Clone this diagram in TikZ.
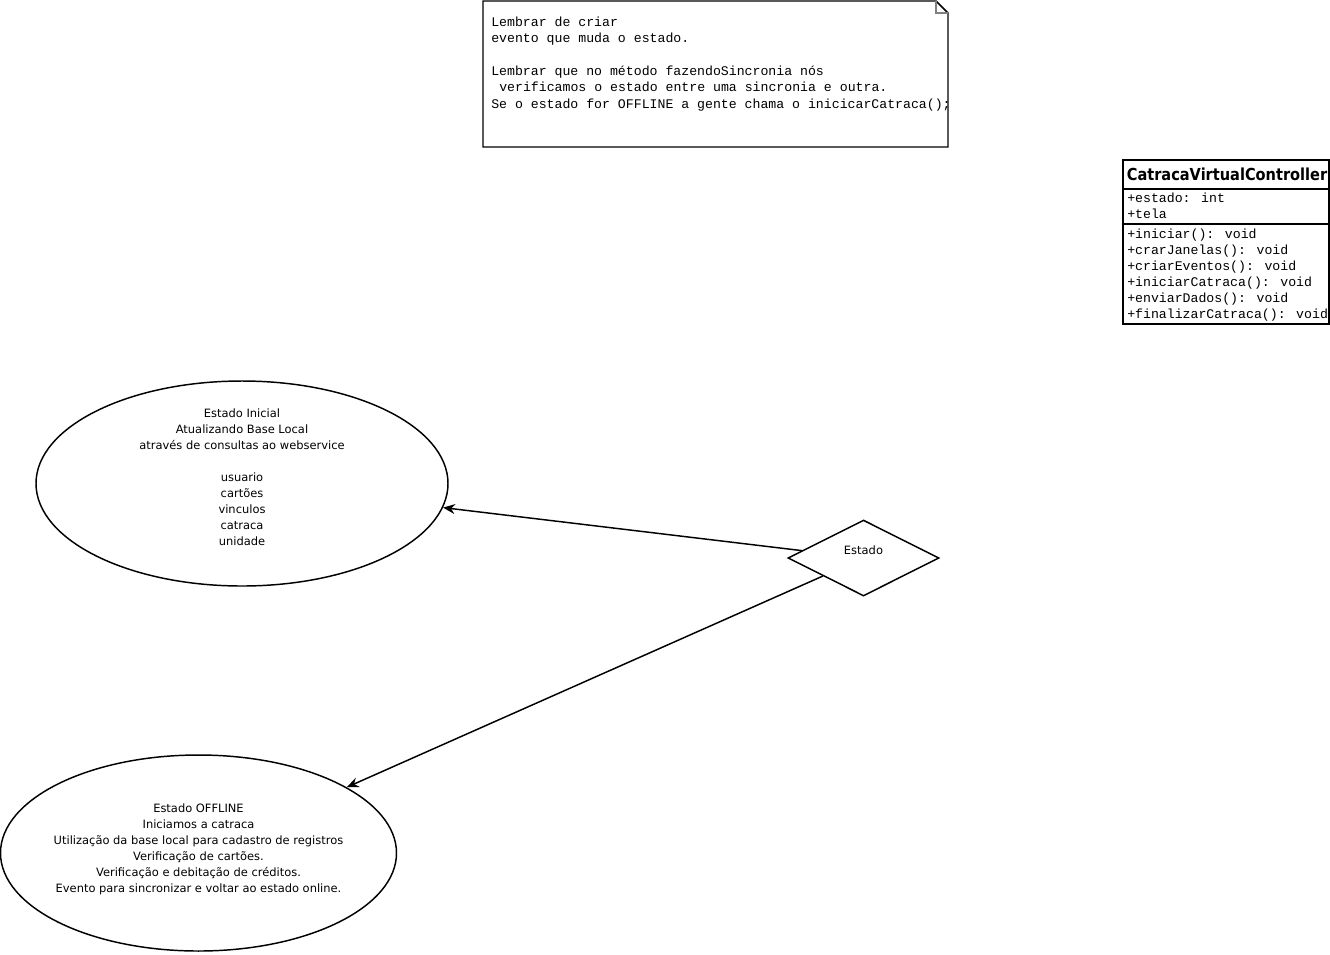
\documentclass[tikz,border=0pt]{standalone}
\usepackage{fontspec}
\usetikzlibrary{shapes.geometric,arrows.meta}
\newfontfamily\monof{Liberation Mono}
\newfontfamily\sansf{DejaVu Sans}
\newfontfamily\titlef[FakeStretch=0.88]{DejaVu Sans}
\begin{document}
\begin{tikzpicture}[x=0.75pt,y=-0.75pt,
  shapeline/.style={draw=black, line width=1.1pt},
  arr/.style={draw=black, line width=1.1pt, -{Stealth[length=9pt,width=7.5pt,inset=3pt]}},
  monotext/.style={font=\monof\fontsize{9.9pt}{12pt}\selectfont, inner sep=0pt, anchor=base west},
  sanstext/.style={font=\sansf\fontsize{8.6pt}{12pt}\selectfont, inner sep=0pt, anchor=base},
  titletext/.style={font=\titlef\bfseries\fontsize{12.4pt}{14pt}\selectfont, inner sep=0pt, anchor=base},
  emptybox/.style={inner sep=0pt, outer sep=0pt, anchor=north west}
]
\useasboundingbox (0,0) rectangle (1330,954);
\fill[white] (0,0) rectangle (1330,954);

% ---- note ----
\node[emptybox, minimum width=348.75pt, minimum height=109.5pt] (note) at (483,1) {};
\draw[shapeline, line join=miter] (note.north west) -- ([xshift=-9pt]note.north east)
  -- ([yshift=-9pt]note.north east) -- (note.south east) -- (note.south west) -- cycle;
\draw[gray, line width=0.8pt] ([xshift=-9pt]note.north east) -- ([xshift=-9pt,yshift=-9pt]note.north east)
  -- ([yshift=-9pt]note.north east);
\foreach \y/\t [count=\i] in {26.5/{Lembrar de criar}, 42.8/{evento que muda o estado.},
   75.4/{Lembrar que no método fazendoSincronia nós},
   108/{Se o estado for OFFLINE a gente chama o inicicarCatraca();}}
  \node[monotext] (nl\i) at (491,\y) {\t};
\node[monotext] (nl5) at (499,91.7) {verificamos o estado entre uma sincronia e outra.};

% ---- class ----
\node[emptybox, shapeline, minimum width=154.5pt, minimum height=123pt] (cls) at (1123,160) {};
\draw[shapeline] ([yshift=-21.75pt]cls.north west) -- ([yshift=-21.75pt]cls.north east);
\draw[shapeline] ([yshift=-48pt]cls.north west) -- ([yshift=-48pt]cls.north east);
\node[titletext] (clsname) at (1227,180.5) {CatracaVirtualController};
\foreach \y/\t [count=\i] in {202/{+estado: int}, 218/{+tela},
   238/{+iniciar(): void}, 254/{+crarJanelas(): void}, 270/{+criarEventos(): void},
   286/{+iniciarCatraca(): void}, 302/{+enviarDados(): void}, 318/{+finalizarCatraca(): void}}
  \node[monotext] (cl\i) at (1127,\y) {\t};

% ---- states ----
\node[ellipse, shapeline, inner sep=0pt, minimum width=309pt, minimum height=153.75pt] (e1) at (242,483.5) {};
\foreach \y/\t [count=\i] in {417/{Estado Inicial}, 433/{Atualizando Base Local},
   449/{através de consultas ao webservice}, 481/{usuario}, 497/{cartões},
   513/{vinculos}, 529/{catraca}, 545/{unidade}}
  \node[sanstext] (ea\i) at (242,\y) {\t};

\node[ellipse, shapeline, inner sep=0pt, minimum width=297pt, minimum height=147pt] (e2) at (198.5,853) {};
\foreach \y/\t [count=\i] in {812/{Estado OFFLINE}, 828/{Iniciamos a catraca},
   844/{Utilização da base local para cadastro de registros}, 860/{Verificação de cartões.},
   876/{Verificação e debitação de créditos.}, 892/{Evento para sincronizar e voltar ao estado online.}}
  \node[sanstext] (eb\i) at (198.5,\y) {\t};

\node[diamond, shapeline, inner sep=0pt, minimum width=113.25pt, minimum height=57pt] (d) at (863.5,558) {};
\node[sanstext] (dl) at (863.5,554.5) {Estado};

% ---- connectors ----
\draw[arr] (d) -- (e1);
\draw[arr] (d) -- (e2);
\end{tikzpicture}
\end{document}
